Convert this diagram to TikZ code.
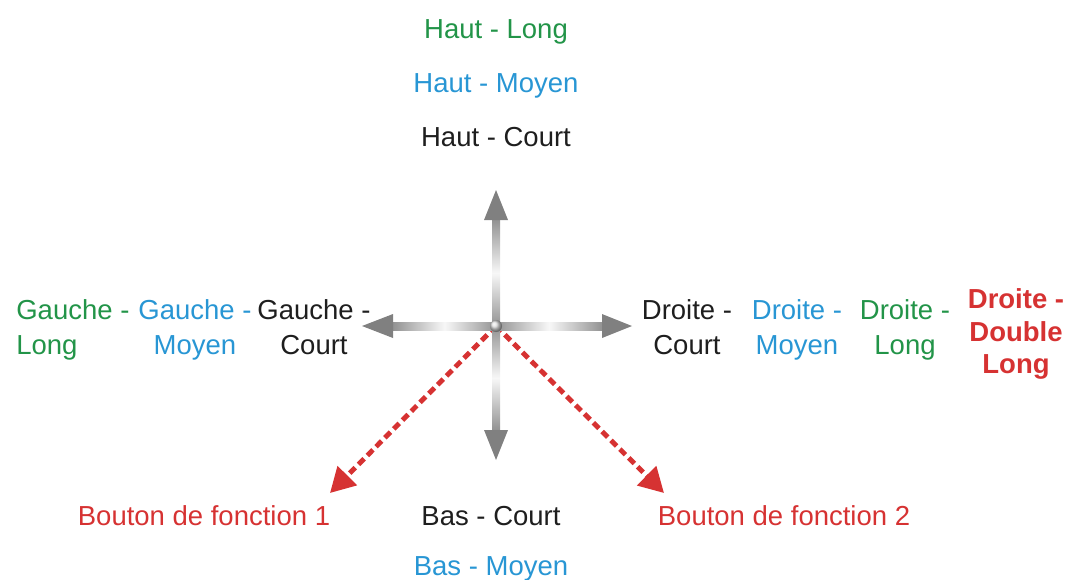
\documentclass[tikz,border=0pt]{standalone}
\usepackage{fontspec}
\setmainfont{Liberation Sans}
\usepackage{tikz}
\usetikzlibrary{arrows.meta,calc}
\usepackage{xcolor}
\definecolor{joygreen}{RGB}{34,148,72}
\definecolor{joyblue}{RGB}{40,150,212}
\definecolor{joyred}{RGB}{214,50,50}
\definecolor{joyblack}{RGB}{30,30,30}
\definecolor{headgray}{RGB}{128,128,128}

\begin{document}
\begin{tikzpicture}[x=0.02cm,y=-0.02cm,>=Stealth,
    lbl/.style={inner sep=0pt,font=\fontsize{15.65}{19.9}\selectfont},
    twoline/.style={lbl,align=center,anchor=north},
    vshaft/.style={top color=gray!85, bottom color=gray!85, middle color=gray!6},
    hshaft/.style={left color=gray!85, right color=gray!85, middle color=gray!6},
    fnarrow/.style={joyred,line width=2.8pt,dash pattern=on 4.5pt off 2.6pt,
        -{Triangle[length=14pt,width=15pt]}}]
    \useasboundingbox (0,0) rectangle (1067,579);

    % Centre and arrow ends
    \coordinate (c) at (496,326);
    \coordinate (utip) at (496,190);  \coordinate (ubase) at (496,220);
    \coordinate (dtip) at (496,460);  \coordinate (dbase) at (496,430);
    \coordinate (ltip) at (362,326);  \coordinate (lbase) at (393,326);
    \coordinate (rtip) at (632,326);  \coordinate (rbase) at (602,326);
    \coordinate (f1tip) at (330,493);
    \coordinate (f2tip) at (664,493);

    % Function buttons
    \draw[fnarrow] (c) -- (f1tip);
    \draw[fnarrow] (c) -- (f2tip);

    % Shafts
    \shade[vshaft] ($(ubase)+(-4,0)$) rectangle ($(c)+(4,0)$);
    \shade[vshaft] ($(c)+(-4,0)$) rectangle ($(dbase)+(4,0)$);
    \shade[hshaft] ($(lbase)+(0,-4)$) rectangle ($(c)+(0,4)$);
    \shade[hshaft] ($(c)+(0,-4)$) rectangle ($(rbase)+(0,4)$);

    % Heads
    \fill[headgray] (utip) -- ($(ubase)+(-12,0)$) -- ($(ubase)+(12,0)$) -- cycle;
    \fill[headgray] (dtip) -- ($(dbase)+(-12,0)$) -- ($(dbase)+(12,0)$) -- cycle;
    \fill[headgray] (ltip) -- ($(lbase)+(0,-12)$) -- ($(lbase)+(0,12)$) -- cycle;
    \fill[headgray] (rtip) -- ($(rbase)+(0,-12)$) -- ($(rbase)+(0,12)$) -- cycle;
    \shade[ball color=gray!25] (c) circle (0.12cm);

    % Up
    \node[lbl,joygreen,anchor=base] (hlong) at (496,38) {Haut - Long};
    \node[lbl,joyblue,anchor=base] (hmoyen) at (496,92) {Haut - Moyen};
    \node[lbl,joyblack,anchor=base] (hcourt) at (496,146) {Haut - Court};

    % Left
    \node[lbl,joygreen,align=left,anchor=north west] (glong) at (16,299) {Gauche -\\Long};
    \node[twoline,joyblue] (gmoyen) at (195,299) {Gauche -\\Moyen};
    \node[twoline,joyblack] (gcourt) at (314,299) {Gauche -\\Court};

    % Right
    \node[twoline,joyblack] (dcourt) at (687,299) {Droite -\\Court};
    \node[twoline,joyblue] (dmoyen) at (797,299) {Droite -\\Moyen};
    \node[twoline,joygreen] (dlong) at (905,299) {Droite -\\Long};
    \node[twoline,joyred,font=\fontsize{15.65}{18.7}\selectfont\bfseries]
        (ddouble) at (1016,288) {Droite -\\Double\\Long};

    % Down
    \node[lbl,joyred,anchor=base] (fn1) at (204,525) {Bouton de fonction 1};
    \node[lbl,joyblack,anchor=base] (bcourt) at (491,525) {Bas - Court};
    \node[lbl,joyred,anchor=base] (fn2) at (784,525) {Bouton de fonction 2};
    \node[lbl,joyblue,anchor=base] (bmoyen) at (491,575) {Bas - Moyen};
\end{tikzpicture}
\end{document}
